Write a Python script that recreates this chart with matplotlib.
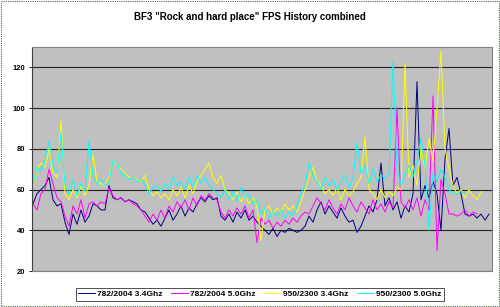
import matplotlib
matplotlib.use("Agg")
import matplotlib.pyplot as plt
from matplotlib.patches import Rectangle
import numpy as np

plt.rcParams['font.family'] = ['Liberation Sans', 'DejaVu Sans']

title = 'BF3 "Rock and hard place" FPS History combined'
labels = ['782/2004 3.4Ghz', '782/2004 5.0Ghz', '950/2300 3.4Ghz', '950/2300 5.0Ghz']
colors = ['#000080', '#FF00FF', '#FFFF00', '#00FFFF']

# fps samples (one sample every few frames)
fps_782_34 = [53, 58, 60, 62, 66, 55, 52, 53, 44, 38, 48, 43, 50, 44, 47, 53, 52, 50, 50, 62,
              56, 55, 56, 54, 55, 54, 53, 50, 49, 46, 43, 45, 42, 46, 50, 45, 48, 52, 47, 51,
              49, 53, 56, 54, 57, 55, 56, 47, 45, 48, 44, 49, 46, 50, 45, 47, 44, 42, 40, 38,
              41, 37, 40, 39, 41, 40, 39, 40, 42, 47, 44, 50, 54, 48, 52, 49, 46, 51, 47, 44,
              45, 39, 42, 47, 52, 49, 55, 73, 52, 56, 50, 54, 46, 52, 49, 58, 113, 55, 62, 56,
              64, 58, 40, 75, 90, 62, 66, 58, 48, 47, 48, 46, 48, 45, 48]
fps_782_50 = [53, 50, 58, 60, 70, 63, 56, 54, 47, 42, 52, 48, 55, 46, 53, 54, 52, 54, 53, 61,
              57, 55, 56, 54, 55, 53, 52, 50, 47, 44, 48, 45, 50, 46, 52, 49, 54, 51, 55, 50,
              56, 52, 57, 55, 58, 56, 55, 49, 46, 50, 47, 51, 48, 52, 46, 50, 34, 46, 43, 45,
              41, 44, 42, 45, 43, 46, 44, 47, 49, 48, 52, 56, 53, 50, 55, 51, 48, 53, 50, 56,
              52, 49, 54, 51, 48, 55, 50, 53, 49, 54, 51, 100, 54, 51, 55, 50, 56, 47, 55, 50,
              106, 30, 65, 58, 48, 48, 47, 48, 50, 47, 49, 48]
fps_950_34 = [62, 70, 73, 71, 80, 68, 66, 94, 58, 55, 60, 56, 62, 57, 62, 77, 64, 63, 62, 66,
              74, 72, 70, 68, 66, 66, 65, 64, 67, 60, 57, 59, 56, 58, 55, 60, 57, 61, 56, 62,
              58, 64, 67, 70, 73, 66, 63, 67, 60, 58, 55, 59, 54, 57, 53, 56, 52, 35, 50, 52,
              48, 51, 49, 53, 50, 52, 49, 54, 60, 66, 71, 64, 62, 58, 60, 57, 61, 55, 60, 57,
              59, 63, 66, 86, 60, 58, 55, 60, 56, 59, 57, 61, 60, 122, 66, 72, 62, 80, 70, 85,
              74, 100, 128, 80, 70, 62, 58, 60, 56, 60, 57, 55, 59]
fps_950_50 = [63, 71, 69, 74, 84, 72, 68, 88, 62, 58, 65, 57, 63, 59, 84, 66, 63, 65, 62, 64,
              74, 73, 68, 67, 65, 66, 64, 65, 62, 58, 61, 62, 59, 63, 60, 66, 62, 64, 60, 66,
              61, 67, 63, 66, 62, 60, 58, 56, 60, 55, 59, 54, 61, 56, 58, 53, 55, 48, 51, 46,
              49, 47, 50, 46, 49, 47, 52, 58, 62, 73, 67, 64, 60, 66, 62, 65, 60, 64, 67, 61,
              66, 83, 68, 72, 63, 70, 64, 67, 66, 67, 123, 70, 62, 68, 72, 66, 74, 85, 72, 40,
              68, 64, 70, 66, 60, 58, 58, 59, 58]
series = [fps_782_34, fps_782_50, fps_950_34, fps_950_50]

fig = plt.figure(figsize=(5, 3.07), dpi=100)
fig.patches.append(Rectangle((0.001, 0.002), 0.997, 0.995, transform=fig.transFigure,
                             fill=False, ec='#5a6648', lw=0.8, ls=(0, (1, 1))))
ax = fig.add_axes([0.064, 0.117, 0.920, 0.730])
ax.set_facecolor('#C0C0C0')

for vals, lab, col in zip(series, labels, colors):
    ax.plot(np.arange(len(vals)), vals, color=col, lw=0.7, label=lab)

ax.set_xlim(-0.25, 114.75)
ax.set_ylim(20, 130)
ax.set_yticks([20, 40, 60, 80, 100, 120])
ax.set_xticks([])
ax.yaxis.grid(True, color='#222222', lw=0.8)
ax.set_axisbelow(True)
ax.tick_params(axis='y', length=2, width=0.6, pad=3, labelsize=5.5, colors='#000000')
for lab in ax.get_yticklabels():
    lab.set_fontweight('bold')
for s in ax.spines.values():
    s.set_color('#808080')
    s.set_linewidth(0.8)
ax.spines['left'].set_color('#404040')

fig.text(0.5, 1 - 17 / 307, title, ha='center', va='center', fontsize=7, fontweight='bold')

leg = fig.legend(loc='center', bbox_to_anchor=(0.52, 0.041), ncol=4, frameon=True,
                 fancybox=False, edgecolor='#000000', handlelength=2.0,
                 handletextpad=0.3, columnspacing=1.0, borderpad=0.3,
                 prop={'weight': 'bold', 'size': 6})
leg.get_frame().set_linewidth(0.6)

fig.savefig('out.png', dpi=100)
